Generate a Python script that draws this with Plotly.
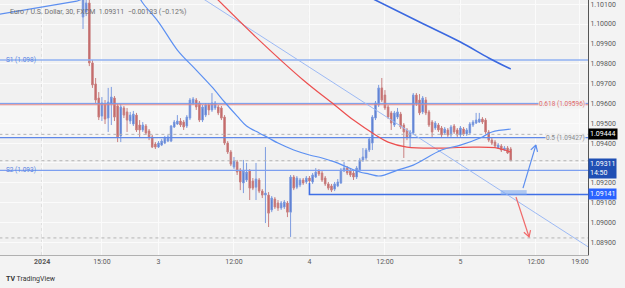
import math
import pandas as pd
import plotly.graph_objects as go

# ---------------- data ----------------
bar_start = "2024-01-02 12:00"

open_ = [1.10035, 1.10061, 1.10106, 1.09804, 1.09698, 1.09627, 1.09536, 1.09597, 1.09526, 1.09597,
         1.09627, 1.09587, 1.09436, 1.09577, 1.09557, 1.09511, 1.09496, 1.09541, 1.09491, 1.09466,
         1.09486, 1.09461, 1.09431, 1.09395, 1.09380, 1.09390, 1.09400, 1.09410, 1.09410, 1.09481,
         1.09496, 1.09511, 1.09506, 1.09486, 1.09526, 1.09602, 1.09617, 1.09602, 1.09516, 1.09541,
         1.09592, 1.09567, 1.09577, 1.09582, 1.09577, 1.09531, 1.09400, 1.09355, 1.09279, 1.09305,
         1.09264, 1.09199, 1.09214, 1.09259, 1.09209, 1.09178, 1.09214, 1.09158, 1.09138, 1.09138,
         1.09063, 1.09118, 1.09098, 1.09073, 1.09078, 1.09098, 1.09052, 1.09229, 1.09178, 1.09189,
         1.09214, 1.09204, 1.09224, 1.09204, 1.09229, 1.09259, 1.09249, 1.09224, 1.09194, 1.09184,
         1.09168, 1.09184, 1.09199, 1.09259, 1.09274, 1.09259, 1.09249, 1.09229, 1.09264, 1.09315,
         1.09325, 1.09365, 1.09400, 1.09526, 1.09592, 1.09678, 1.09642, 1.09582, 1.09552, 1.09491,
         1.09531, 1.09546, 1.09491, 1.09466, 1.09431, 1.09451, 1.09642, 1.09617, 1.09557, 1.09617,
         1.09557, 1.09506, 1.09476, 1.09491, 1.09476, 1.09451, 1.09466, 1.09441, 1.09486, 1.09466,
         1.09441, 1.09471, 1.09446, 1.09451, 1.09491, 1.09501, 1.09506, 1.09521, 1.09516, 1.09456,
         1.09415, 1.09405, 1.09375, 1.09385, 1.09365, 1.09375, 1.09370]
high = [1.10171, 1.10181, 1.10121, 1.09819, 1.09728, 1.09657, 1.09632, 1.09617, 1.09678, 1.09683,
        1.09637, 1.09597, 1.09597, 1.09587, 1.09577, 1.09557, 1.09562, 1.09552, 1.09516, 1.09506,
        1.09496, 1.09471, 1.09441, 1.09405, 1.09410, 1.09420, 1.09436, 1.09441, 1.09491, 1.09516,
        1.09541, 1.09526, 1.09516, 1.09541, 1.09627, 1.09632, 1.09627, 1.09612, 1.09592, 1.09602,
        1.09602, 1.09652, 1.09612, 1.09592, 1.09587, 1.09541, 1.09410, 1.09365, 1.09330, 1.09315,
        1.09274, 1.09315, 1.09300, 1.09269, 1.09224, 1.09300, 1.09224, 1.09168, 1.09380, 1.09153,
        1.09133, 1.09128, 1.09113, 1.09108, 1.09113, 1.09108, 1.09239, 1.09239, 1.09234, 1.09224,
        1.09224, 1.09234, 1.09234, 1.09249, 1.09274, 1.09269, 1.09259, 1.09234, 1.09204, 1.09194,
        1.09204, 1.09219, 1.09274, 1.09305, 1.09284, 1.09269, 1.09259, 1.09284, 1.09325, 1.09375,
        1.09375, 1.09431, 1.09541, 1.09612, 1.09693, 1.09728, 1.09667, 1.09592, 1.09562, 1.09562,
        1.09577, 1.09557, 1.09501, 1.09476, 1.09466, 1.09652, 1.09652, 1.09647, 1.09637, 1.09632,
        1.09567, 1.09516, 1.09511, 1.09501, 1.09486, 1.09481, 1.09476, 1.09491, 1.09496, 1.09476,
        1.09486, 1.09481, 1.09476, 1.09506, 1.09516, 1.09552, 1.09552, 1.09531, 1.09526, 1.09466,
        1.09426, 1.09415, 1.09400, 1.09395, 1.09385, 1.09385, 1.09380]
low = [1.09975, 1.10040, 1.09788, 1.09678, 1.09602, 1.09516, 1.09511, 1.09496, 1.09456, 1.09491,
       1.09511, 1.09405, 1.09405, 1.09526, 1.09456, 1.09496, 1.09486, 1.09456, 1.09431, 1.09456,
       1.09441, 1.09415, 1.09375, 1.09370, 1.09375, 1.09385, 1.09395, 1.09405, 1.09405, 1.09476,
       1.09491, 1.09481, 1.09466, 1.09476, 1.09516, 1.09592, 1.09567, 1.09506, 1.09506, 1.09531,
       1.09541, 1.09557, 1.09567, 1.09541, 1.09516, 1.09390, 1.09345, 1.09284, 1.09269, 1.09239,
       1.09163, 1.09148, 1.09204, 1.09113, 1.09163, 1.09113, 1.09148, 1.09123, 1.08997, 1.08977,
       1.09052, 1.09068, 1.09058, 1.09063, 1.09068, 1.09027, 1.08927, 1.09163, 1.09168, 1.09178,
       1.09189, 1.09194, 1.09199, 1.09194, 1.09224, 1.09234, 1.09204, 1.09184, 1.09163, 1.09153,
       1.09158, 1.09178, 1.09194, 1.09254, 1.09239, 1.09229, 1.09214, 1.09219, 1.09254, 1.09305,
       1.09315, 1.09355, 1.09365, 1.09516, 1.09582, 1.09607, 1.09567, 1.09521, 1.09466, 1.09481,
       1.09521, 1.09471, 1.09325, 1.09415, 1.09380, 1.09441, 1.09587, 1.09541, 1.09546, 1.09541,
       1.09481, 1.09431, 1.09466, 1.09456, 1.09431, 1.09441, 1.09431, 1.09431, 1.09446, 1.09431,
       1.09431, 1.09436, 1.09436, 1.09441, 1.09481, 1.09496, 1.09501, 1.09496, 1.09446, 1.09405,
       1.09390, 1.09380, 1.09370, 1.09355, 1.09360, 1.09345, 1.09310]
close = [1.10146, 1.10106, 1.09804, 1.09693, 1.09617, 1.09531, 1.09602, 1.09521, 1.09607, 1.09632,
         1.09531, 1.09431, 1.09582, 1.09541, 1.09516, 1.09541, 1.09546, 1.09466, 1.09466, 1.09491,
         1.09451, 1.09431, 1.09380, 1.09380, 1.09400, 1.09410, 1.09426, 1.09431, 1.09486, 1.09506,
         1.09511, 1.09491, 1.09481, 1.09531, 1.09617, 1.09622, 1.09582, 1.09516, 1.09582, 1.09592,
         1.09567, 1.09602, 1.09602, 1.09552, 1.09526, 1.09400, 1.09355, 1.09294, 1.09310, 1.09254,
         1.09204, 1.09259, 1.09254, 1.09173, 1.09173, 1.09219, 1.09158, 1.09138, 1.09148, 1.09047,
         1.09123, 1.09078, 1.09073, 1.09098, 1.09103, 1.09052, 1.09229, 1.09173, 1.09224, 1.09214,
         1.09199, 1.09224, 1.09209, 1.09239, 1.09254, 1.09244, 1.09214, 1.09194, 1.09173, 1.09163,
         1.09194, 1.09204, 1.09264, 1.09274, 1.09249, 1.09239, 1.09229, 1.09274, 1.09315, 1.09330,
         1.09365, 1.09420, 1.09531, 1.09602, 1.09678, 1.09617, 1.09577, 1.09531, 1.09501, 1.09552,
         1.09557, 1.09481, 1.09456, 1.09431, 1.09456, 1.09642, 1.09602, 1.09552, 1.09627, 1.09552,
         1.09491, 1.09456, 1.09501, 1.09466, 1.09441, 1.09471, 1.09441, 1.09481, 1.09456, 1.09441,
         1.09476, 1.09446, 1.09466, 1.09496, 1.09506, 1.09516, 1.09521, 1.09506, 1.09456, 1.09415,
         1.09400, 1.09385, 1.09390, 1.09365, 1.09375, 1.09350, 1.09311]

fast_ma_t = ["2024-01-02 20:45", "2024-01-02 21:30", "2024-01-03 00:00", "2024-01-03 03:00",
             "2024-01-03 06:00", "2024-01-03 08:30", "2024-01-03 10:30", "2024-01-03 12:30",
             "2024-01-03 14:00", "2024-01-03 16:00", "2024-01-03 17:30", "2024-01-03 19:00",
             "2024-01-03 21:30", "2024-01-04 00:00", "2024-01-04 02:00", "2024-01-04 04:00",
             "2024-01-04 06:00", "2024-01-04 08:00", "2024-01-04 09:30", "2024-01-04 11:00",
             "2024-01-04 12:00", "2024-01-04 14:00", "2024-01-04 16:30", "2024-01-04 21:00",
             "2024-01-05 00:00", "2024-01-05 03:30", "2024-01-05 05:00", "2024-01-05 08:00"]
fast_ma_v = [1.10146, 1.10106, 1.10010, 1.09869, 1.09768, 1.09683, 1.09607, 1.09536,
             1.09486, 1.09451, 1.09426, 1.09400, 1.09365, 1.09340, 1.09325, 1.09305,
             1.09279, 1.09254, 1.09244, 1.09234, 1.09240, 1.09264, 1.09289, 1.09365,
             1.09390, 1.09431, 1.09456, 1.09471]

slow_ma_t = ["2024-01-03 09:00", "2024-01-03 16:00", "2024-01-03 23:00", "2024-01-04 04:00",
             "2024-01-04 07:00", "2024-01-04 10:30", "2024-01-04 12:30", "2024-01-04 15:30",
             "2024-01-04 21:00", "2024-01-05 02:00", "2024-01-05 05:30", "2024-01-05 07:00",
             "2024-01-05 08:00"]
slow_ma_v = [1.10136, 1.09919, 1.09718, 1.09592, 1.09516, 1.09441, 1.09405, 1.09380,
             1.09375, 1.09380, 1.09377, 1.09365, 1.09355]

long_ma_t = ["2024-01-04 09:30", "2024-01-04 17:30", "2024-01-05 00:00", "2024-01-05 04:30",
             "2024-01-05 08:00"]
long_ma_v = [1.10136, 1.10010, 1.09909, 1.09829, 1.09773]

left_ma_t = ["2024-01-01 22:00", "2024-01-02 11:00", "2024-01-02 12:00"]
left_ma_v = [1.10045, 1.10115, 1.10127]

trend_t = ["2024-01-03 07:00", "2024-01-05 21:00"]
trend_v = [1.10129, 1.08863]

s1_level, s2_level = 1.09819, 1.09262
fib618_level, fib500_level = 1.09596, 1.09427
ray_level = 1.09141
ray_t = ["2024-01-04 00:00", "2024-01-04 00:00", "2024-01-05 23:00"]
ray_v = [1.09199, 1.09141, 1.09141]
dotted_levels = [1.09444, 1.09311, 1.08922]
last_price, ma_tag = 1.09311, 1.09444

box_t = ["2024-01-05 06:24", "2024-01-05 10:32"]
box_v = [1.09138, 1.09163]
up_arrow_t = ["2024-01-05 09:57", "2024-01-05 12:00"]
up_arrow_v = [1.09173, 1.09390]
dn_arrow_t = ["2024-01-05 08:50", "2024-01-05 10:55"]
dn_arrow_v = [1.09128, 1.08927]

tick_t = ["2024-01-02 05:30", "2024-01-02 15:00", "2024-01-03 00:00", "2024-01-03 12:00",
          "2024-01-04 00:00", "2024-01-04 12:00", "2024-01-05 00:00", "2024-01-05 12:00",
          "2024-01-05 19:00"]
tick_txt = ["<b>2024</b>", "15:00", "3", "12:00", "4", "12:00", "5", "12:00", "19:00"]
day_lines = ["2024-01-02 05:30", "2024-01-03 00:00", "2024-01-04 00:00", "2024-01-05 00:00"]

# ---------------- geometry ----------------
X0, X1 = pd.Timestamp("2024-01-01 22:48"), pd.Timestamp("2024-01-05 20:17")
Y0, Y1 = 1.08836, 1.10121
W, H = 625, 288
ML, MR, MT, MB = 0, 37, 0, 33
PW, PH = W - ML - MR, H - MT - MB

def to_px(t, p):
    t = pd.Timestamp(t)
    return ((t - X0) / (X1 - X0) * PW, (Y1 - p) / (Y1 - Y0) * PH)

def from_px(px, py):
    return (X0 + (X1 - X0) * (px / PW), Y1 - py / PH * (Y1 - Y0))

def head(ts, vs, L=7.0, ang=30):
    ax, ay = to_px(ts[0], vs[0])
    bx, by = to_px(ts[1], vs[1])
    d = math.atan2(by - ay, bx - ax)
    xs, ys = [], []
    for s in (1, -1):
        a = d + math.pi + s * math.radians(ang)
        t, p = from_px(bx + L * math.cos(a), by + L * math.sin(a))
        xs.append(t); ys.append(p)
    tip = from_px(bx, by)
    return [xs[0], tip[0], xs[1]], [ys[0], tip[1], ys[1]]

times = pd.date_range(bar_start, periods=len(close), freq="30min")
FONT = "Roboto"

fig = go.Figure()

xs_full = [X0 - pd.Timedelta(hours=2), X1 + pd.Timedelta(hours=2)]

def hline(level, color, width=1, dash="solid"):
    fig.add_trace(go.Scatter(x=xs_full, y=[level, level], mode="lines",
                             line=dict(color=color, width=width, dash=dash),
                             hoverinfo="skip"))

# subtle fib zone
fig.add_shape(type="rect", xref="paper", x0=0, x1=1, yref="y", y0=fib500_level, y1=fib618_level,
              fillcolor="rgba(255,255,255,0.35)", line=dict(width=0), layer="below")

for d in day_lines:
    fig.add_shape(type="line", x0=d, x1=d, yref="paper", y0=0, y1=1,
                  line=dict(color="#c4c4c4", width=1, dash="dot"), layer="below")

for lv in dotted_levels:
    hline(lv, "#b4b4b4", 1, "dot")

hline(s1_level, "#8fb0f2", 1.5)
hline(s2_level, "#7c9ff0", 1.3)
hline(fib618_level + 0.00004, "#7096ea", 1)
hline(fib618_level - 0.00003, "#e08585", 1.1)
hline(fib500_level, "#5f88e8", 1.3)

fig.add_trace(go.Scatter(x=ray_t, y=ray_v, mode="lines",
                         line=dict(color="#3f6fe6", width=1.6), hoverinfo="skip"))

fig.add_trace(go.Scatter(x=trend_t, y=trend_v, mode="lines",
                         line=dict(color="#9dbaf5", width=1), hoverinfo="skip"))
fig.add_trace(go.Scatter(x=left_ma_t, y=left_ma_v, mode="lines",
                         line=dict(color="#5d8ff0", width=1.2), hoverinfo="skip"))
fig.add_trace(go.Scatter(x=long_ma_t, y=long_ma_v, mode="lines", line_shape="spline",
                         line=dict(color="#3a68e0", width=1.6), hoverinfo="skip"))
fig.add_trace(go.Scatter(x=slow_ma_t, y=slow_ma_v, mode="lines", line_shape="spline",
                         line=dict(color="#ec4f4f", width=1.2), hoverinfo="skip"))
fig.add_trace(go.Scatter(x=fast_ma_t, y=fast_ma_v, mode="lines", line_shape="spline",
                         line=dict(color="#5c90f2", width=1.2), hoverinfo="skip"))

fig.add_trace(go.Candlestick(
    x=times, open=open_, high=high, low=low, close=close,
    increasing=dict(line=dict(color="#7d9ce0", width=1), fillcolor="#4f70c8"),
    decreasing=dict(line=dict(color="#c98080", width=1), fillcolor="#c25e5e"),
    whiskerwidth=0, hoverinfo="skip"))

# drawing tools: box + arrows
fig.add_shape(type="rect", x0=box_t[0], x1=box_t[1], y0=box_v[0], y1=box_v[1],
              fillcolor="rgba(120,165,240,0.55)", line=dict(width=0))
for ts, vs, col in ((up_arrow_t, up_arrow_v, "#5b8def"), (dn_arrow_t, dn_arrow_v, "#f06a6a")):
    fig.add_trace(go.Scatter(x=ts, y=vs, mode="lines", line=dict(color=col, width=1.2),
                             hoverinfo="skip"))
    hx, hy = head(ts, vs)
    fig.add_trace(go.Scatter(x=hx, y=hy, mode="lines", line=dict(color=col, width=1.2),
                             hoverinfo="skip"))

ann = []
ann.append(dict(xref="paper", yref="paper", x=0, xshift=8, y=1 - 12 / PH, xanchor="left",
                yanchor="middle", showarrow=False,
                text="Euro / U.S. Dollar, 30, FXCM  1.09311  \u22120.00133 (\u22120.12%)",
                font=dict(family=FONT, size=7, color="#707070")))
ann.append(dict(xref="paper", yref="y", x=0, xshift=4, y=s1_level, xanchor="left", yanchor="middle",
                showarrow=False, text="S1 (1.098)", font=dict(family=FONT, size=6.5, color="#5a84e2")))
ann.append(dict(xref="paper", yref="y", x=0, xshift=4, y=s2_level, xanchor="left", yanchor="middle",
                showarrow=False, text="S2 (1.093)", font=dict(family=FONT, size=6.5, color="#5a84e2")))
ann.append(dict(xref="paper", yref="y", x=1, xshift=-2, y=fib618_level, xanchor="right",
                yanchor="middle", showarrow=False, text="0.618 (1.09596)",
                bgcolor="rgba(242,242,242,0.9)", borderpad=0,
                font=dict(family=FONT, size=6.5, color="#e06a6a")))
ann.append(dict(xref="paper", yref="y", x=1, xshift=-2, y=fib500_level, xanchor="right",
                yanchor="middle", showarrow=False, text="0.5 (1.09427)",
                bgcolor="rgba(242,242,242,0.9)", borderpad=0,
                font=dict(family=FONT, size=6.5, color="#8a8a8a")))
for lv, txt, bg, ya, ys in ((ma_tag, "1.09444", "#000000", "middle", 0),
                            (last_price, "1.09311<br>14:50", "#1f4fb4", "top", 3),
                            (ray_level, "1.09141", "#2962ff", "middle", 0)):
    ann.append(dict(xref="paper", yref="y", x=1, xshift=0, y=lv, yshift=ys, xanchor="left",
                    yanchor=ya, showarrow=False, text=txt, bgcolor=bg, borderpad=1, align="left",
                    font=dict(family=FONT, size=7, color="#ffffff")))
ann.append(dict(xref="paper", yref="paper", x=0, xshift=4, y=-(279 - PH) / PH, xanchor="left",
                yanchor="middle", showarrow=False, text="<b>TV</b> TradingView",
                font=dict(family=FONT, size=7, color="#333333")))

fig.update_layout(
    width=W, height=H, margin=dict(l=ML, r=MR, t=MT, b=MB),
    paper_bgcolor="#f3f3f3", plot_bgcolor="#f1f1f1", showlegend=False,
    annotations=ann, font=dict(family=FONT, size=7, color="#5a5a5a"),
    xaxis=dict(type="date", range=[X0, X1], rangeslider=dict(visible=False),
               tickvals=tick_t, ticktext=tick_txt, showgrid=True, gridcolor="#fbfbfb",
               gridwidth=1, zeroline=False, showline=True, linecolor="#b0b0b0",
               tickfont=dict(family=FONT, size=7, color="#5a5a5a"), ticks=""),
    yaxis=dict(side="right", range=[Y0, Y1], dtick=0.001, tick0=1.089, tickformat=".5f",
               showgrid=True, gridcolor="#fbfbfb", gridwidth=1, zeroline=False,
               showline=True, linecolor="#555555", ticks="",
               tickfont=dict(family=FONT, size=7, color="#5a5a5a")),
)

fig.write_html("out.html")
